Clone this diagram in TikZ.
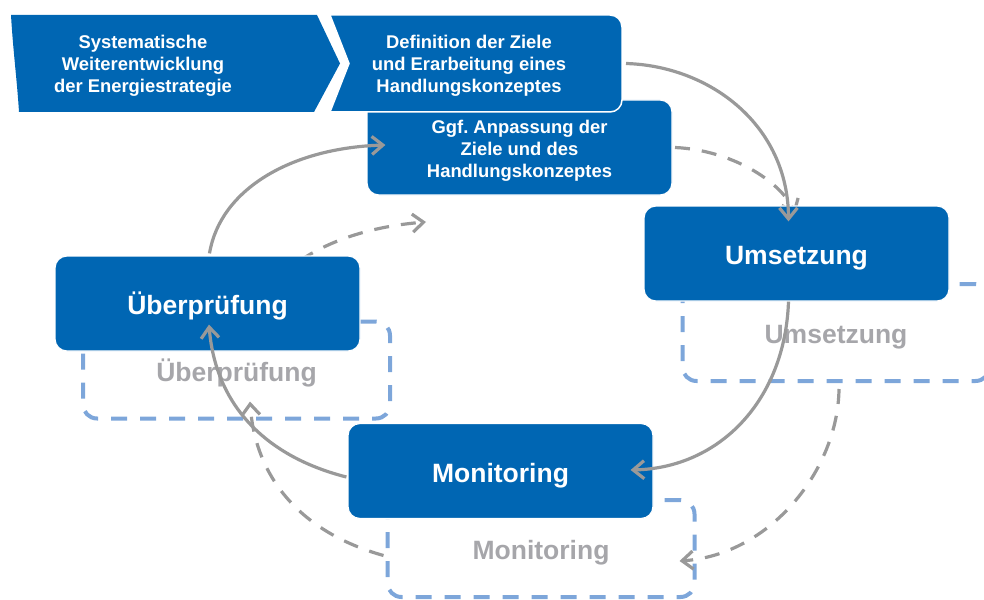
\documentclass[tikz,border=0pt]{standalone}
\usepackage{fontspec}
\setmainfont{Liberation Sans}
\usetikzlibrary{arrows.meta,calc}
\frenchspacing
\definecolor{boxblue}{RGB}{0,102,179}
\definecolor{ghostblue}{RGB}{125,166,218}
\definecolor{arrowgray}{RGB}{153,153,153}
\definecolor{ghosttext}{RGB}{166,166,170}
\newcommand\mybigfont{\fontsize{26.5}{30}\selectfont\bfseries}
\newcommand\mysmallfont{\fontsize{18.4}{21.8}\selectfont\bfseries}
\tikzset{
  mainbox/.style={rectangle, rounded corners=12, minimum width=305, minimum height=95, inner sep=0,
    fill=boxblue, draw=white, line width=1.2, text=white, font=\mybigfont, text height=22, text depth=0},
  topbox/.style={rectangle, rounded corners=12, minimum width=305, minimum height=95, inner sep=0,
    fill=boxblue, draw=white, line width=1.2, text=white, font=\mysmallfont, align=center},
  toptext/.style={text=white, font=\mysmallfont, align=center, inner sep=0},
  ghostbox/.style={rectangle, rounded corners=14, minimum width=307, minimum height=97, inner sep=0,
    draw=ghostblue, line width=4, dash pattern=on 16pt off 13pt, text=ghosttext, font=\mybigfont,
    text height=22, text depth=0},
  arr/.style={draw=arrowgray, line width=3.2, -{Straight Barb[length=11pt,width=18pt]}},
  darr/.style={arr, dash pattern=on 15pt off 12pt},
}
\begin{document}
\begin{tikzpicture}[x=1pt,y=-1pt]
\useasboundingbox (0,0) rectangle (984,599);
% ghost boxes
\node[ghostbox] (gums) at (836,332.5) {Umsetzung};
\node[ghostbox] (gueb) at (236.5,370) {Überprüfung};
\node[ghostbox] (gmon) at (541,548.5) {Monitoring};
% dashed arrows
\coordinate (ggfR) at (675,147.5);
\draw[darr] (ggfR) .. controls (730,150) and (780,180) .. ($(796.5,206)+(-1,8)$);
\draw[darr] ($(gums.south)+(3,6)$) .. controls (838,470) and (770,555) .. ($(gmon.east)+(-17,12.5)$);
\draw[darr] ($(gmon.west)+(-2,7)$) .. controls (300,532) and (255,477) .. ($(gueb.south)+(13.5,-19)$);
\draw[darr] ($(gueb.north)+(25.5,-21)$) .. controls (290,255) and (350,228) .. (426,222);
% chevron
\fill[boxblue] (11,15) -- (317,15) -- (340,63.5) -- (314,112) -- (19,112) .. controls (17,80) and (13,50) .. (11,15) -- cycle;
\node[toptext] (chev) at (143,66) {Systematische\\Weiterentwicklung\\der Energiestrategie};
% Ggf box
\node[topbox] (ggf) at (519.5,147.5) {};
\node[toptext] (ggftext) at (519.5,150.5) {Ggf. Anpassung der\\Ziele und des\\Handlungskonzeptes};
% Definition box
\filldraw[fill=boxblue, draw=white, line width=1.5] (330,15) -- (610,15) arc[start angle=-90, end angle=0, radius=12]
  -- (622,100) arc[start angle=0, end angle=90, radius=12] -- (330,112) -- (349,63.5) -- cycle;
\node[toptext] (def) at (469,66) {Definition der Ziele\\und Erarbeitung eines\\Handlungskonzeptes};
\coordinate (defR) at (626,63.5);
% main boxes
\node[mainbox] (ums) at (796.5,253.5) {Umsetzung};
\node[mainbox] (ueb) at (207.5,303.5) {Überprüfung};
\node[mainbox] (mon) at (500.5,471) {Monitoring};
% solid arrows
\draw[arr] (defR) .. controls (710,66) and (788,125) .. ($(ums.north)+(-8,16)$);
\draw[arr] ($(ums.south)+(-8,0)$) .. controls (785,400) and (720,468) .. ($(mon.east)+(-23,-1)$);
\draw[arr] ($(mon.west)+(-1,6)$) .. controls (260,455) and (215,400) .. ($(ueb.south)+(1.5,-27)$);
\draw[arr] ($(ueb.north)+(2,-2)$) .. controls (220,190) and (290,148) .. ($(ggf.west)+(19,-2.5)$);
\end{tikzpicture}
\end{document}
